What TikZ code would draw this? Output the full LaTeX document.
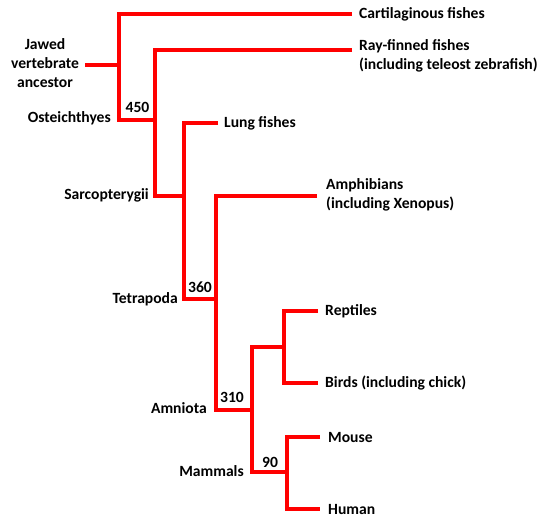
\documentclass[tikz,border=0pt]{standalone}
\usepackage{fontspec}
\setmainfont{Carlito}
\begin{document}
\begin{tikzpicture}[x=1pt,y=-1pt,
  branch/.style={draw=red, line width=4pt, line join=miter},
  lbl/.style={font=\bfseries\fontsize{15.6}{19}\selectfont, inner sep=0pt, text=black},
  leaf/.style={lbl, anchor=mid west, align=left},
  clade/.style={lbl, anchor=mid east, align=right},
  age/.style={lbl, anchor=mid}]
\useasboundingbox (0,0) rectangle (542,523);
% junction coordinates
\coordinate (c0) at (85,65);
\coordinate (v1t) at (119,14);   \coordinate (v1b) at (119,120);
\coordinate (v2t) at (155,50);   \coordinate (v2b) at (155,196);
\coordinate (v3t) at (184,123);  \coordinate (v3b) at (184,299);
\coordinate (v4t) at (216,196);  \coordinate (v4b) at (216,410);
\coordinate (v5t) at (252,347);  \coordinate (v5b) at (252,472);
\coordinate (v6t) at (284,311);  \coordinate (v6b) at (284,383);
\coordinate (v7t) at (287,437);  \coordinate (v7b) at (287,509);
\coordinate (cartE) at (352,14);
\coordinate (rayE) at (352,50);
\coordinate (lungE) at (218,123);
\coordinate (amphE) at (317,196);
\coordinate (reptE) at (318,311);
\coordinate (birdE) at (318,383);
\coordinate (mouseE) at (320,437);
\coordinate (humanE) at (320,509);
% branches
\path[branch] (c0) -- (c0 -| v1t);
\path[branch] (cartE) -- (v1t) -- (v1b) -- (v1b -| v2t);
\path[branch] (rayE) -- (v2t) -- (v2b) -- (v2b -| v3t);
\path[branch] (lungE) -- (v3t) -- (v3b) -- (v3b -| v4t);
\path[branch] (amphE) -- (v4t) -- (v4b) -- (v4b -| v5t);
\path[branch] (v5t -| v6t) -- (v5t) -- (v5b) -- (v5b -| v7t);
\path[branch] (reptE) -- (v6t) -- (v6b) -- (birdE);
\path[branch] (mouseE) -- (v7t) -- (v7b) -- (humanE);
% leaf labels
\node[leaf] (cart) at (359,16) {Cartilaginous fishes};
\node[leaf] (ray) at (359,67) {Ray-finned fishes\\(including teleost zebrafish)};
\node[leaf] (lung) at (224,125) {Lung fishes};
\node[leaf] (amph) at (326,206) {Amphibians\\(including Xenopus)};
\node[leaf] (rept) at (325,313) {Reptiles};
\node[leaf] (bird) at (325,385) {Birds (including chick)};
\node[leaf] (mouse) at (328,440) {Mouse};
\node[leaf] (human) at (328,512) {Human};
% clade labels
\node[lbl, align=center] (jaw) at (45,63) {Jawed\\vertebrate\\ancestor};
\node[clade] (ost) at (111,120) {Osteichthyes};
\node[clade] (sar) at (149,197) {Sarcopterygii};
\node[clade] (tet) at (178,301) {Tetrapoda};
\node[clade] (amn) at (207,411) {Amniota};
\node[clade] (mam) at (244,474) {Mammals};
% ages
\node[age] (a450) at (137.5,110) {450};
\node[age] (a360) at (200,290) {360};
\node[age] (a310) at (232,400) {310};
\node[age] (a90) at (270,465) {90};
\end{tikzpicture}
\end{document}
